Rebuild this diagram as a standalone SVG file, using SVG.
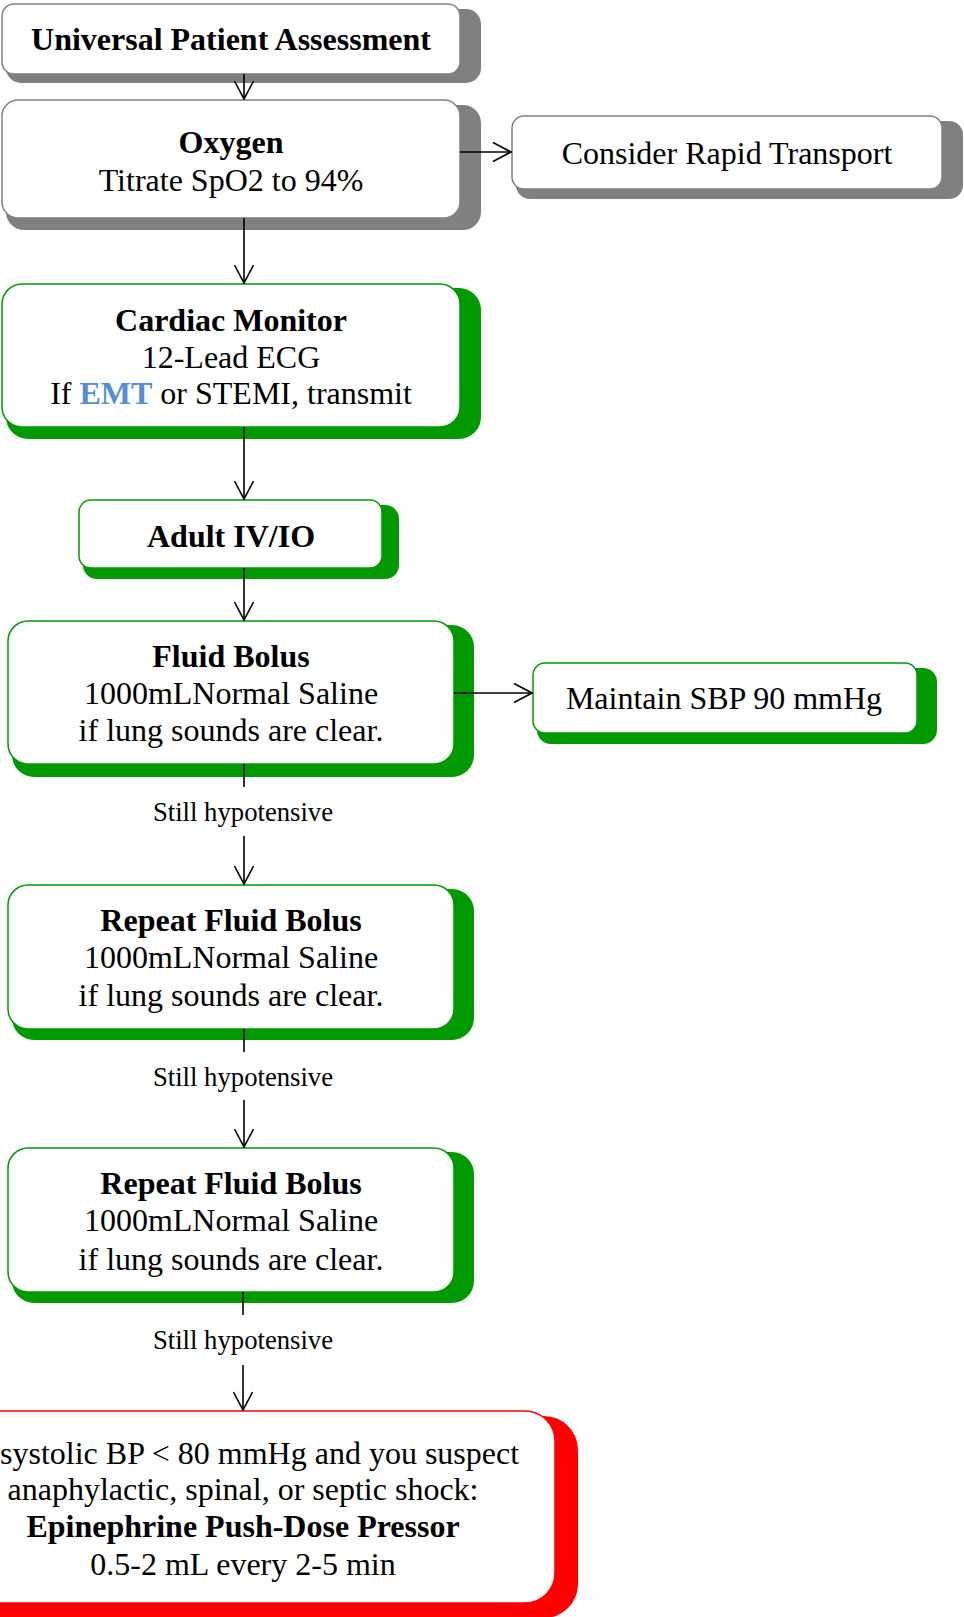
<svg xmlns="http://www.w3.org/2000/svg" width="964" height="1617" viewBox="0 0 964 1617">
<defs>
<marker id="arr" viewBox="0 0 20 20" refX="19" refY="10" markerWidth="20" markerHeight="20" markerUnits="userSpaceOnUse" orient="auto">
<path d="M1,0.5 L19,10 L1,19.5" fill="none" stroke="#000" stroke-width="1.6"/>
</marker>
<style>
text{font-family:"Liberation Serif","Times New Roman",serif;font-size:32px;fill:#000;text-anchor:middle}
.b{font-weight:bold}
.lbl{font-size:26.7px}
.gs{fill:#808080}
.gb{fill:#fff;stroke:#808080;stroke-width:1.5}
.ns{fill:#009900}
.nb{fill:#fff;stroke:#009900;stroke-width:1.5}
.rs{fill:#ff0000}
.rb{fill:#fff;stroke:#ff0000;stroke-width:1.5}
.c{fill:none;stroke:#000;stroke-width:1.6}
</style>
</defs>
<rect width="964" height="1617" fill="#fff"/>
<g id="universal">
<rect class="gs" x="6" y="9" width="475" height="74" rx="15"/>
<rect class="gb" x="2" y="4" width="458" height="70" rx="12"/>
<text class="b" x="231" y="50">Universal Patient Assessment</text>
</g>
<g id="oxygen">
<rect class="gs" x="6" y="105" width="475" height="125" rx="18"/>
<rect class="gb" x="2" y="100" width="458" height="118" rx="16"/>
<text class="b" x="231" y="153">Oxygen</text>
<text x="231" y="191">Titrate SpO2 to 94%</text>
</g>
<g id="transport">
<rect class="gs" x="516" y="121" width="447" height="78" rx="14"/>
<rect class="gb" x="512" y="116" width="430" height="73" rx="12"/>
<text x="727" y="164">Consider Rapid Transport</text>
</g>
<g id="cardiac">
<rect class="ns" x="6" y="288" width="475" height="151" rx="22"/>
<rect class="nb" x="2" y="284" width="458" height="143" rx="20"/>
<text class="b" x="231" y="331">Cardiac Monitor</text>
<text x="231" y="368">12-Lead ECG</text>
<text x="231" y="404">If <tspan class="b" fill="#558ED5">EMT</tspan> or STEMI, transmit</text>
</g>
<g id="iv">
<rect class="ns" x="83" y="505" width="316" height="74" rx="14"/>
<rect class="nb" x="79" y="500" width="303" height="68" rx="12"/>
<text class="b" x="231" y="547">Adult IV/IO</text>
</g>
<g id="bolus1">
<rect class="ns" x="12" y="625" width="462" height="152" rx="22"/>
<rect class="nb" x="8" y="621" width="446" height="143" rx="20"/>
<text class="b" x="231" y="667">Fluid Bolus</text>
<text x="231" y="704">1000mLNormal Saline</text>
<text x="231" y="741">if lung sounds are clear.</text>
</g>
<g id="maintain">
<rect class="ns" x="537" y="668" width="400" height="76" rx="14"/>
<rect class="nb" x="533" y="663" width="384" height="70" rx="12"/>
<text x="724" y="709">Maintain SBP 90 mmHg</text>
</g>
<g id="bolus2">
<rect class="ns" x="12" y="889" width="462" height="151" rx="22"/>
<rect class="nb" x="8" y="885" width="446" height="144" rx="20"/>
<text class="b" x="231" y="931">Repeat Fluid Bolus</text>
<text x="231" y="968">1000mLNormal Saline</text>
<text x="231" y="1006">if lung sounds are clear.</text>
</g>
<g id="bolus3">
<rect class="ns" x="12" y="1152" width="462" height="151" rx="22"/>
<rect class="nb" x="8" y="1148" width="446" height="144" rx="20"/>
<text class="b" x="231" y="1194">Repeat Fluid Bolus</text>
<text x="231" y="1231">1000mLNormal Saline</text>
<text x="231" y="1270">if lung sounds are clear.</text>
</g>
<g id="pressor">
<rect class="rs" x="-66" y="1416" width="644" height="202" rx="34"/>
<rect class="rb" x="-70" y="1411" width="625" height="192" rx="30"/>
<text x="0" y="1464" style="text-anchor:start">systolic BP &lt; 80 mmHg and you suspect</text>
<text x="243" y="1500">anaphylactic, spinal, or septic shock:</text>
<text class="b" x="243" y="1537">Epinephrine Push-Dose Pressor</text>
<text x="243" y="1575">0.5-2 mL every 2-5 min</text>
</g>
<g id="connectors">
<path class="c" d="M244,74 V99" marker-end="url(#arr)"/>
<path class="c" d="M460,152 H511" marker-end="url(#arr)"/>
<path class="c" d="M244,218 V283" marker-end="url(#arr)"/>
<path class="c" d="M244,427 V499" marker-end="url(#arr)"/>
<path class="c" d="M244,568 V620" marker-end="url(#arr)"/>
<path class="c" d="M454,693 H532" marker-end="url(#arr)"/>
<path class="c" d="M244,764 V787"/>
<text class="lbl" x="243" y="821">Still hypotensive</text>
<path class="c" d="M244,836 V884" marker-end="url(#arr)"/>
<path class="c" d="M244,1029 V1052"/>
<text class="lbl" x="243" y="1086">Still hypotensive</text>
<path class="c" d="M244,1100 V1147" marker-end="url(#arr)"/>
<path class="c" d="M243,1292 V1315"/>
<text class="lbl" x="243" y="1349">Still hypotensive</text>
<path class="c" d="M243,1365 V1410" marker-end="url(#arr)"/>
</g>
</svg>
